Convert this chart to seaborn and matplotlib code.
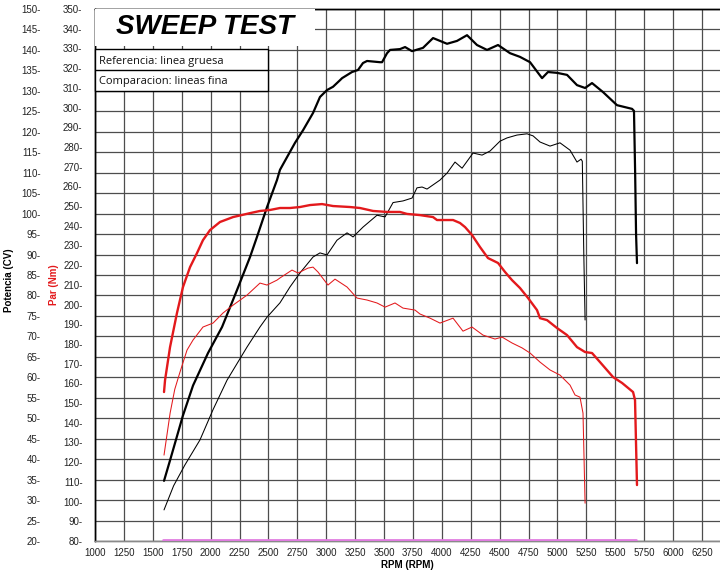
import numpy as np
import pandas as pd
import matplotlib
matplotlib.use("Agg")
import matplotlib.pyplot as plt
import seaborn as sns
from matplotlib.patches import Rectangle
from matplotlib.ticker import FixedLocator, FuncFormatter

# ---------------- data ----------------
ref_power_rpm = [1597, 1650, 1700, 1760, 1848, 1977, 2099, 2228, 2341, 2401, 2488, 2574, 2600, 2661,
                 2730, 2800, 2886, 2946, 3007, 3059, 3119, 3137, 3223, 3275, 3318, 3353, 3465, 3483,
                 3526, 3552, 3638, 3682, 3742, 3837, 3924, 4045, 4131, 4218, 4304, 4391, 4486, 4590,
                 4676, 4763, 4832, 4867, 4918, 4996, 5083, 5169, 5239, 5299, 5394, 5515, 5645, 5662,
                 5672, 5680, 5688]
ref_power = [34.7, 39.8, 44.7, 50.6, 58.0, 65.9, 72.3, 81.3, 89.4, 94.3, 101.6, 108.2, 110.7, 113.8,
             117.3, 120.4, 124.6, 128.5, 130.2, 131.0, 132.6, 133.1, 134.6, 135.1, 136.8, 137.3, 137.0, 137.0,
             139.2, 140.0, 140.2, 140.7, 139.7, 140.5, 142.9, 141.5, 142.2, 143.6, 141.2, 140.0, 141.2, 139.2,
             138.3, 137.0, 134.4, 133.1, 134.6, 134.4, 133.9, 131.4, 130.7, 131.9, 129.7, 126.5, 125.6, 125.1,
             110.0, 95.0, 87.9]

cmp_power_rpm = [1597, 1680, 1778, 1908, 2021, 2142, 2315, 2427, 2488, 2600, 2687, 2773, 2886, 2946,
                 3007, 3093, 3180, 3232, 3318, 3439, 3509, 3578, 3664, 3742, 3785, 3829, 3872, 3984,
                 4045, 4114, 4175, 4270, 4348, 4417, 4503, 4564, 4650, 4737, 4789, 4849, 4936, 5022,
                 5109, 5169, 5204, 5215, 5228, 5239]
cmp_power = [27.6, 33.5, 38.6, 44.7, 52.1, 59.3, 67.4, 72.3, 74.7, 78.2, 82.1, 85.5, 89.4, 90.4,
             89.9, 93.5, 95.3, 94.3, 96.7, 99.6, 99.2, 102.7, 103.1, 103.8, 106.3, 106.5, 106.0, 108.2,
             109.9, 112.6, 111.1, 114.8, 114.3, 115.3, 117.7, 118.5, 119.2, 119.5, 119.0, 117.5, 116.5, 117.3,
             115.5, 112.6, 113.3, 112.8, 90.0, 74.0]

ref_torque_rpm = [1597, 1606, 1649, 1709, 1761, 1822, 1882, 1934, 1995, 2081, 2194, 2341, 2427, 2514,
                  2600, 2687, 2773, 2860, 2964, 3059, 3206, 3292, 3405, 3526, 3638, 3699, 3811, 3924,
                  3958, 4097, 4157, 4201, 4261, 4330, 4399, 4486, 4547, 4607, 4676, 4746, 4823, 4849,
                  4910, 4996, 5083, 5169, 5239, 5299, 5368, 5481, 5559, 5654, 5671, 5688]
ref_torque = [155.6, 161.7, 178.4, 195.7, 208.9, 219.0, 226.1, 232.7, 237.8, 241.9, 244.4, 246.4, 247.5, 248.0,
              249.0, 249.0, 249.5, 250.5, 251.0, 250.0, 249.5, 249.0, 247.5, 247.0, 247.0, 246.0, 245.4, 244.4,
              242.9, 242.9, 241.4, 239.3, 235.3, 229.2, 223.6, 221.1, 216.5, 212.4, 208.4, 203.3, 197.2, 193.1,
              192.1, 188.1, 184.5, 178.4, 175.9, 175.4, 170.8, 163.2, 160.2, 155.6, 151.5, 108.4]

cmp_torque_rpm = [1597, 1650, 1690, 1735, 1796, 1848, 1934, 2021, 2107, 2194, 2315, 2427, 2488, 2574,
                  2600, 2704, 2756, 2842, 2886, 2929, 3015, 3076, 3180, 3266, 3353, 3439, 3509, 3595,
                  3664, 3768, 3811, 3898, 3984, 4097, 4183, 4261, 4356, 4460, 4521, 4607, 4694, 4763,
                  4849, 4936, 5022, 5109, 5152, 5195, 5221, 5239]
cmp_torque = [123.6, 145.0, 157.0, 165.7, 176.9, 182.0, 188.6, 190.6, 195.7, 199.7, 204.8, 210.9, 209.9, 212.4,
              213.5, 217.5, 216.0, 218.5, 219.0, 216.5, 209.9, 212.9, 208.9, 203.3, 202.3, 200.8, 198.7, 200.8,
              198.2, 197.2, 195.2, 193.1, 190.6, 193.1, 186.5, 188.6, 184.5, 182.5, 183.5, 180.5, 178.0, 175.4,
              170.8, 166.8, 164.2, 159.1, 154.1, 153.0, 144.9, 99.2]

aux_rpm = [1590, 5680]
aux_torque = [80.5, 80.5]

x_ticks = list(range(1000, 6251, 250))
power_ticks = list(range(20, 151, 5))
torque_ticks = list(range(80, 351, 10))

title_text = "SWEEP TEST"
legend_lines = ["Referencia: linea gruesa", "Comparacion: lineas fina"]

# ---------------- style ----------------
sns.set_theme(style="white")
plt.rcParams['font.family'] = ['Liberation Sans', 'DejaVu Sans']

RED = "#e3191c"
GRID = "#4d4d4d"

fig = plt.figure(figsize=(7.2, 5.75), dpi=100)
ax = fig.add_axes([95 / 720, 34 / 575, 625 / 720, 532 / 575])
ax.set_facecolor("white")
axT = ax.twinx()

# power (black) on ax
sns.lineplot(x=ref_power_rpm, y=ref_power, ax=ax, color="black", lw=1.6,
             estimator=None, sort=False, zorder=3)
sns.lineplot(x=cmp_power_rpm, y=cmp_power, ax=ax, color="black", lw=0.75,
             estimator=None, sort=False, zorder=3)

# torque (red) on axT
sns.lineplot(x=ref_torque_rpm, y=ref_torque, ax=axT, color=RED, lw=1.7,
             estimator=None, sort=False, zorder=3)
sns.lineplot(x=cmp_torque_rpm, y=cmp_torque, ax=axT, color=RED, lw=0.75,
             estimator=None, sort=False, zorder=3)
sns.lineplot(x=aux_rpm, y=aux_torque, ax=axT, color="#e07ce0", lw=2.0,
             estimator=None, sort=False, zorder=3)

ax.set_xlim(1000, 6406)
ax.set_ylim(20, 150)
axT.set_ylim(80, 350)

ax.xaxis.set_major_locator(FixedLocator(x_ticks))
ax.yaxis.set_major_locator(FixedLocator(power_ticks))
axT.yaxis.set_major_locator(FixedLocator(torque_ticks))
ax.yaxis.set_major_formatter(FuncFormatter(lambda v, p: f"{int(round(v))}-"))
axT.yaxis.set_major_formatter(FuncFormatter(lambda v, p: f"{int(round(v))}-"))

ax.grid(True, color=GRID, lw=0.9, zorder=0)
ax.set_axisbelow(True)

ax.tick_params(axis='x', length=3, width=0.8, color="#555555", pad=2, labelsize=7, labelcolor="#222222")
ax.tick_params(axis='y', length=0, pad=39, labelsize=7, labelcolor="#222222")
axT.yaxis.set_ticks_position('left')
axT.yaxis.set_label_position('left')
axT.tick_params(axis='y', which='both', left=True, right=False, labelleft=True, labelright=False,
                length=0, pad=9, labelsize=7, labelcolor="#222222")

for a in (ax, axT):
    a.spines['right'].set_visible(False)
    a.spines['left'].set_color("black")
    a.spines['left'].set_linewidth(1.0)
    a.spines['top'].set_color("black")
    a.spines['top'].set_linewidth(1.0)
    a.spines['bottom'].set_color("#8a8a8a")
    a.spines['bottom'].set_linewidth(1.0)

ax.set_ylabel("Potencia (CV)", fontsize=7, fontweight="bold", color="black")
ax.yaxis.set_label_coords(-0.1296, 0.49)
axT.set_ylabel("Par (Nm)", fontsize=7, fontweight="bold", color=RED)
axT.yaxis.set_label_coords(-0.0576, 0.481)
ax.set_xlabel("RPM (RPM)", fontsize=7, fontweight="bold", color="black")
ax.xaxis.set_label_coords(0.5, -0.036)
ax.xaxis.label.set_verticalalignment("top")

# title box
axT.add_patch(Rectangle((0, 0.9305), 0.352, 0.0695, transform=axT.transAxes,
                        facecolor="white", edgecolor="none", zorder=5, clip_on=False))
axT.text(0.176, 0.966, title_text, transform=axT.transAxes, ha="center", va="center",
         fontsize=20, fontweight="bold", fontstyle="italic", color="black", zorder=6,
         family=["Liberation Sans", "DejaVu Sans"])

# legend box
axT.add_patch(Rectangle((0, 0.8459), 0.2768, 0.0789, transform=axT.transAxes,
                        facecolor="white", edgecolor="black", lw=1.0, zorder=5, clip_on=False))
axT.plot([0, 0.2768], [0.8853, 0.8853], transform=axT.transAxes, color="black", lw=1.0, zorder=6)
axT.text(0.006, 0.902, legend_lines[0], transform=axT.transAxes, ha="left", va="center",
         fontsize=8, color="#111111", zorder=7, family=["Open Sans", "DejaVu Sans"])
axT.text(0.006, 0.863, legend_lines[1], transform=axT.transAxes, ha="left", va="center",
         fontsize=8, color="#111111", zorder=7, family=["Open Sans", "DejaVu Sans"])

fig.savefig("out.png", dpi=100)
